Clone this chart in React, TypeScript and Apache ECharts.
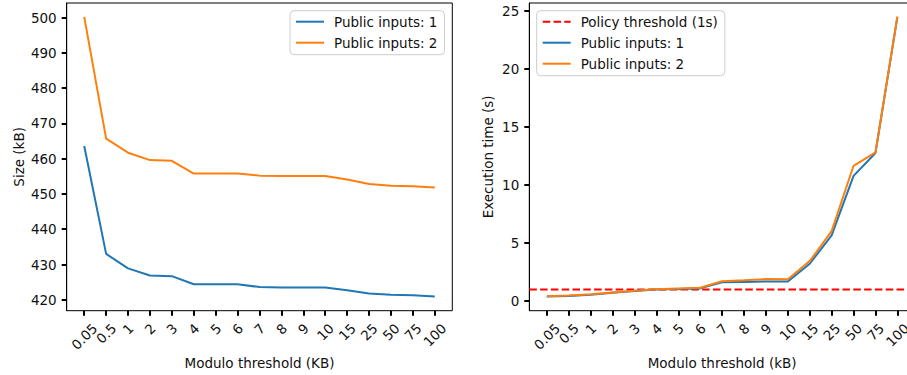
import React, { useEffect, useRef } from 'react';
import * as echarts from 'echarts';

const categories = ['0.05', '0.5', '1', '2', '3', '4', '5', '6', '7', '8', '9', '10', '15', '25', '50', '75', '100'];
const sizeInputs1 = [463.6, 433.0, 428.9, 426.9, 426.7, 424.4, 424.4, 424.4, 423.6, 423.5, 423.5, 423.5, 422.7, 421.8, 421.4, 421.3, 420.9];
const sizeInputs2 = [500.2, 465.7, 461.7, 459.6, 459.4, 455.8, 455.8, 455.8, 455.2, 455.1, 455.1, 455.1, 454.1, 452.8, 452.3, 452.2, 451.8];
const timeInputs1 = [0.4, 0.45, 0.56, 0.72, 0.88, 1.0, 1.05, 1.1, 1.62, 1.66, 1.7, 1.7, 3.22, 5.66, 10.78, 12.75, 24.45];
const timeInputs2 = [0.42, 0.48, 0.6, 0.75, 0.9, 1.02, 1.1, 1.15, 1.72, 1.8, 1.9, 1.88, 3.45, 6.03, 11.65, 12.8, 24.5];
const policyThreshold = 1;
const sizeTicks = [420, 430, 440, 450, 460, 470, 480, 490, 500];
const timeTicks = [0, 5, 10, 15, 20, 25];

const BLUE = '#1f77b4';
const ORANGE = '#ff7f0e';
const RED = '#ff0000';
const FONT = 'DejaVu Sans';
const FS = 13.5;
const TXT = '#111';
const X_PAD = 0.8;
// category i sits at x = i + 1 so that the x range never contains zero
const X_MIN = 1 - X_PAD;
const X_MAX = categories.length + X_PAD;

const FRAME_W = 385.6;
const FRAME_H = 307.7;
const FRAME_TOP = 3;
const LEFT_A = 66.7;
const LEFT_B = 529.3;
const UNIT = FRAME_W / (X_MAX - X_MIN);
const TICK_LEN = 5;
const TICK_W = 2;

function buildRich() {
  const canvas = document.createElement('canvas');
  const ctx = canvas.getContext('2d')!;
  ctx.font = `${FS}px "${FONT}"`;
  const h = FS * 1.164;
  const rich: Record<string, any> = {};
  categories.forEach((c, i) => {
    const w = ctx.measureText(c).width;
    const s = (w + h) / 2;
    rich['c' + i] = {
      fontFamily: FONT,
      fontSize: FS,
      color: TXT,
      padding: [0, s, 0, 0],
      lineHeight: s,
    };
  });
  return rich;
}

export default function App() {
  const ref = useRef<HTMLDivElement>(null);
  useEffect(() => {
    if (!ref.current) return;
    const chart = echarts.init(ref.current, null, { renderer: 'svg' });
    const rich = buildRich();

    const frameGrid = (left: number) => ({
      left, top: FRAME_TOP, width: FRAME_W, height: FRAME_H,
      show: true, borderColor: '#000', borderWidth: 1, backgroundColor: 'transparent',
      containLabel: false, outerBoundsMode: 'none',
    });
    const labelGrid = (left: number) => ({
      left: left + X_PAD * UNIT, top: FRAME_TOP, width: FRAME_W - 2 * X_PAD * UNIT, height: FRAME_H,
      show: false, containLabel: false, outerBoundsMode: 'none',
    });

    const xValueAxis = (gridIndex: number, name: string) => ({
      type: 'value',
      gridIndex,
      min: X_MIN,
      max: X_MAX,
      name,
      nameLocation: 'middle',
      nameGap: 45,
      nameTextStyle: { fontFamily: FONT, fontSize: FS, color: TXT },
      axisLine: { show: false, onZero: false },
      splitLine: { show: false },
      axisTick: { show: false },
      axisLabel: { show: false },
    });

    const xCategoryAxis = (gridIndex: number) => ({
      type: 'category',
      gridIndex,
      data: categories,
      boundaryGap: false,
      axisLine: { show: true, onZero: false, lineStyle: { color: 'transparent', width: 0 } },
      splitLine: { show: false },
      axisTick: { show: true, interval: 0, length: TICK_LEN, lineStyle: { color: '#000', width: TICK_W } },
      axisLabel: {
        interval: 0,
        rotate: 45,
        align: 'center',
        verticalAlign: 'top',
        margin: 9.6,
        formatter: (v: string, i: number) => `{c${i}|${v}}`,
        rich,
      },
    });

    const yAxisBase = (gridIndex: number, name: string, min: number, max: number, ticks: number[], gap: number) => ({
      type: 'value',
      gridIndex,
      position: 'left',
      min,
      max,
      name,
      nameLocation: 'middle',
      nameGap: gap,
      nameTextStyle: { fontFamily: FONT, fontSize: FS, color: TXT },
      axisLine: { show: true, onZero: false, lineStyle: { color: '#000', width: 1 } },
      splitLine: { show: false },
      axisTick: {
        show: true,
        inside: false,
        customValues: ticks,
        length: TICK_LEN,
        lineStyle: { color: '#000', width: TICK_W },
      },
      axisLabel: {
        customValues: ticks,
        margin: 10,
        fontFamily: FONT,
        fontSize: FS,
        color: TXT,
        showMinLabel: true,
        showMaxLabel: true,
      },
    });
    const hiddenY = (gridIndex: number) => ({ type: 'value', gridIndex, show: false, min: 0, max: 1 });

    const legendBase = {
      orient: 'vertical',
      top: 10.7,
      padding: [4, 7, 5, 5],
      itemWidth: 28,
      itemHeight: 14,
      itemGap: 7,
      backgroundColor: 'rgba(255,255,255,0.8)',
      borderColor: '#cccccc',
      borderWidth: 1,
      borderRadius: 4,
      selectedMode: false,
      itemStyle: { opacity: 0 },
      textStyle: { fontFamily: FONT, fontSize: FS, color: TXT, padding: [0, 0, 0, 5] },
    };

    const lineSeries = (name: string, axisIndex: number, values: number[], color: string, z: number) => ({
      type: 'line',
      name,
      xAxisIndex: axisIndex,
      yAxisIndex: axisIndex,
      data: values.map((v, i) => [i + 1, v]),
      symbol: 'none',
      z,
      lineStyle: { color, width: 2 },
      itemStyle: { color },
    });

    chart.setOption({
      animation: false,
      backgroundColor: '#fff',
      textStyle: { fontFamily: FONT },
      grid: [frameGrid(LEFT_A), frameGrid(LEFT_B), labelGrid(LEFT_A), labelGrid(LEFT_B)],
      xAxis: [
        xValueAxis(0, 'Modulo threshold (KB)'),
        xValueAxis(1, 'Modulo threshold (kB)'),
        xCategoryAxis(2),
        xCategoryAxis(3),
      ],
      yAxis: [
        yAxisBase(0, 'Size (kB)', 416.9, 504.15, sizeTicks, 41),
        yAxisBase(1, 'Execution time (s)', -0.82, 25.66, timeTicks, 34),
        hiddenY(2),
        hiddenY(3),
      ],
      legend: [
        { ...legendBase, left: 290, data: ['Public inputs: 1', 'Public inputs: 2'] },
        { ...legendBase, left: 536.7, data: ['Policy threshold (1s)', 'Public inputs: 1', 'Public inputs: 2'] },
      ],
      series: [
        lineSeries('Public inputs: 1', 0, sizeInputs1, BLUE, 2),
        lineSeries('Public inputs: 2', 0, sizeInputs2, ORANGE, 3),
        {
          type: 'line',
          name: 'Policy threshold (1s)',
          xAxisIndex: 1,
          yAxisIndex: 1,
          data: [[X_MIN, policyThreshold], [X_MAX, policyThreshold]],
          symbol: 'none',
          z: 1,
          lineStyle: { color: RED, width: 2, type: [7.5, 3.3] },
          itemStyle: { color: RED },
        },
        lineSeries('Public inputs: 1', 1, timeInputs1, BLUE, 2),
        lineSeries('Public inputs: 2', 1, timeInputs2, ORANGE, 3),
      ],
    });
    return () => chart.dispose();
  }, []);

  return (
    <div style={{ position: 'absolute', left: 0, top: 0, width: 907, height: 375, overflow: 'hidden', background: '#fff' }}>
      <div ref={ref} style={{ width: 930, height: 375 }} />
    </div>
  );
}
